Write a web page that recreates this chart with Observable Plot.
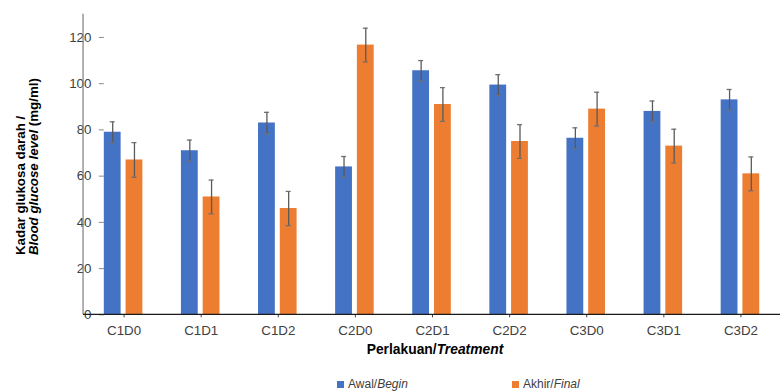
<!DOCTYPE html>
<html><head><meta charset="utf-8">
<script src="https://cdn.jsdelivr.net/npm/d3@7"></script>
<script src="https://cdn.jsdelivr.net/npm/@observablehq/plot@0.6"></script>
<style>
html,body{margin:0;padding:0;background:#fff;overflow:hidden;width:780px;height:392px;}
#chart{position:relative;width:780px;height:392px;overflow:hidden;font-family:"Liberation Sans",Arial,sans-serif;}
#chart svg{display:block;}
.legend{position:absolute;top:377px;left:0;width:780px;height:15px;font-size:12px;color:#404040;line-height:15px;}
.legend .item{position:absolute;top:0;white-space:nowrap;}
.legend .sw{display:inline-block;width:7px;height:7px;margin-right:4px;vertical-align:0px;}
</style></head><body><div id="chart"></div>
<script>
const categories = ["C1D0","C1D1","C1D2","C2D0","C2D1","C2D2","C3D0","C3D1","C3D2"];
const series = ["Awal","Akhir"];
const awal = [79, 71, 83, 64, 105.6, 99.4, 76.4, 88, 93];
const awalErr = [4.5, 4.6, 4.6, 4.5, 4.4, 4.5, 4.5, 4.5, 4.5];
const akhir = [67, 51, 46, 116.7, 91, 75, 89, 73, 61];
const akhirErr = [7.5, 7.3, 7.4, 7.3, 7.3, 7.3, 7.3, 7.3, 7.3];
const yTicks = [0, 20, 40, 60, 80, 100, 120];
const colors = ["#4472C4", "#ED7D31"];

const data = categories.flatMap((c, i) => [
  {cat: c, s: "Awal", v: awal[i], e: awalErr[i]},
  {cat: c, s: "Akhir", v: akhir[i], e: akhirErr[i]}
]);

const plot = Plot.plot({
  width: 789, height: 370,
  marginLeft: 84, marginRight: 0, marginTop: 14, marginBottom: 52,
  style: {fontFamily: "'Liberation Sans', Arial, sans-serif", fontSize: "13.5px", color: "#404040", background: "#fff"},
  fx: {domain: categories, paddingInner: 0.49, paddingOuter: 0.245, label: null, axis: "bottom", tickSize: 3, tickPadding: 8},
  x: {domain: series, paddingInner: 0.223, paddingOuter: 0, axis: null},
  y: {domain: [0, 130], ticks: yTicks, tickSize: 5, tickPadding: 8, label: null, tickFormat: d => String(d)},
  color: {domain: series, range: colors},
  marks: [
    Plot.barY(data, {fx: "cat", x: "s", y: "v", fill: "s"}),
    Plot.ruleX(data, {fx: "cat", x: "s", y1: d => d.v - d.e, y2: d => d.v + d.e, stroke: "#595959", strokeWidth: 1.3}),
    Plot.tickY(data, {fx: "cat", x: "s", y: d => d.v + d.e, stroke: "#6f6f6f", strokeWidth: 1.3, insetLeft: 6, insetRight: 6}),
    Plot.tickY(data, {fx: "cat", x: "s", y: d => d.v - d.e, stroke: "#6f6f6f", strokeWidth: 1.3, insetLeft: 6, insetRight: 6})
  ]
});

const chart = document.getElementById("chart");
chart.appendChild(plot);

const svg = d3.select(plot);
// enforce tick label size
svg.selectAll("text").style("font-size", "13.5px").style("fill", "#404040");
svg.selectAll('g[aria-label="y-axis tick"] path, g[aria-label="y-axis tick"] line').attr("stroke", "#868686");

// axis lines and titles
const y = plot.scale("y");
const y0 = y.apply(0), yTop = y.apply(130);
svg.append("line").attr("x1", 84).attr("x2", 84).attr("y1", yTop).attr("y2", y0)
  .attr("stroke", "#868686").attr("stroke-width", 1.3);
svg.append("line").attr("x1", 84).attr("x2", 789).attr("y1", y0).attr("y2", y0)
  .attr("stroke", "#1a1a1a").attr("stroke-width", 1.2);

const xt = svg.append("text").attr("x", 440).attr("y", 358).attr("text-anchor", "middle")
  .style("font-size", "14px").attr("font-weight", "bold").attr("fill", "#000")
  .attr("font-family", "'Liberation Sans', Arial, sans-serif");
xt.append("tspan").text("Perlakuan/");
xt.append("tspan").attr("font-style", "italic").text("Treatment");

const yt = svg.append("g").attr("transform", "translate(0,258) rotate(-90)")
  .style("font-size", "13.5px").attr("font-weight", "bold").attr("fill", "#000")
  .attr("font-family", "'Liberation Sans', Arial, sans-serif").attr("text-anchor", "start");
yt.append("text").attr("x", 0).attr("y", 25).text("Kadar glukosa darah /");
const l2 = yt.append("text").attr("x", 0).attr("y", 38);
l2.append("tspan").attr("font-style", "italic").text("Blood glucose level");
l2.append("tspan").text(" (mg/ml)");

// legend
const leg = document.createElement("div");
leg.className = "legend";
leg.innerHTML =
  `<span class="item" style="left:337px"><span class="sw" style="background:${colors[0]}"></span>Awal/<i>Begin</i></span>` +
  `<span class="item" style="left:512px"><span class="sw" style="background:${colors[1]}"></span>Akhir/<i>Final</i></span>`;
chart.appendChild(leg);
</script>
</body></html>
